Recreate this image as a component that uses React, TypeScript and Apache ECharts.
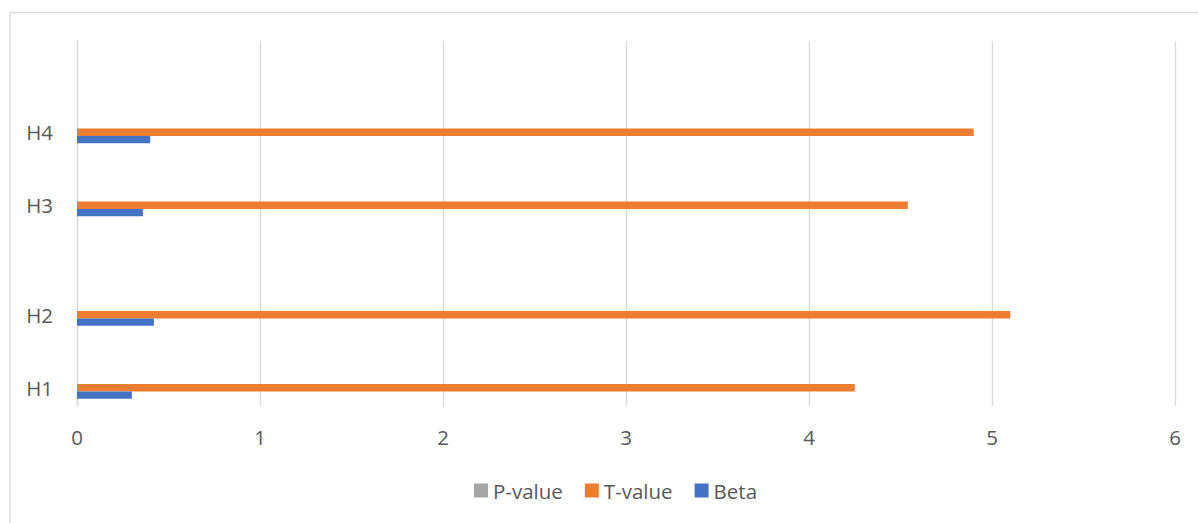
import React, { useEffect, useRef } from "react";
import * as echarts from "echarts";

// Hypothesis rows, bottom to top; empty strings are spacer rows in the sheet
const categories = ["H1", "", "H2", "", "", "H3", "", "H4", "", ""];
const pValues = [0, null, 0, null, null, 0, null, 0, null, null];
const tValues = [4.25, null, 5.1, null, null, 4.54, null, 4.9, null, null];
const betaValues = [0.3, null, 0.42, null, null, 0.36, null, 0.4, null, null];
const xTicks = { min: 0, max: 6, interval: 1 };

const FONT = "'Open Sans', 'Noto Sans', sans-serif";
const TEXT = "#595959";
const GRID = "#d9d9d9";

export default function App() {
  const ref = useRef<HTMLDivElement>(null);

  useEffect(() => {
    document.body.style.margin = "0";
    const chart = echarts.init(ref.current!, null, { renderer: "svg" });
    const bar = (name: string, data: (number | null)[], color: string) => ({
      name,
      type: "bar",
      data,
      barWidth: 7.3,
      barGap: "0%",
      itemStyle: { color },
    });
    chart.setOption({
      animation: false,
      textStyle: { fontFamily: FONT },
      graphic: [
        {
          type: "rect",
          shape: { x: 10, y: 12.5, width: 1400, height: 700 },
          style: { fill: "none", stroke: GRID, lineWidth: 1.3 },
          silent: true,
        },
      ],
      grid: { left: 77, right: 23, top: 41, bottom: 117 },
      legend: {
        data: ["P-value", "T-value", "Beta"],
        top: 475,
        left: 469,
        itemWidth: 14,
        itemHeight: 14,
        itemGap: 22,
        icon: "rect",
        textStyle: { color: TEXT, fontSize: 20.5, fontFamily: FONT },
      },
      xAxis: {
        type: "value",
        min: xTicks.min,
        max: xTicks.max,
        interval: xTicks.interval,
        axisLine: { show: false },
        axisTick: { show: false },
        axisLabel: { color: TEXT, fontSize: 20.5, margin: 20, fontFamily: FONT },
        splitLine: { lineStyle: { color: GRID, width: 1.3 } },
      },
      yAxis: {
        type: "category",
        data: categories,
        axisLine: { lineStyle: { color: GRID, width: 1.3 } },
        axisTick: { show: false },
        axisLabel: { color: TEXT, fontSize: 20.5, margin: 24, interval: 0, fontFamily: FONT },
      },
      series: [
        bar("P-value", pValues, "#a5a5a5"),
        bar("T-value", tValues, "#ed7d31"),
        bar("Beta", betaValues, "#4472c4"),
      ],
    });
    return () => chart.dispose();
  }, []);

  return <div ref={ref} style={{ width: 1198, height: 523 }} />;
}
